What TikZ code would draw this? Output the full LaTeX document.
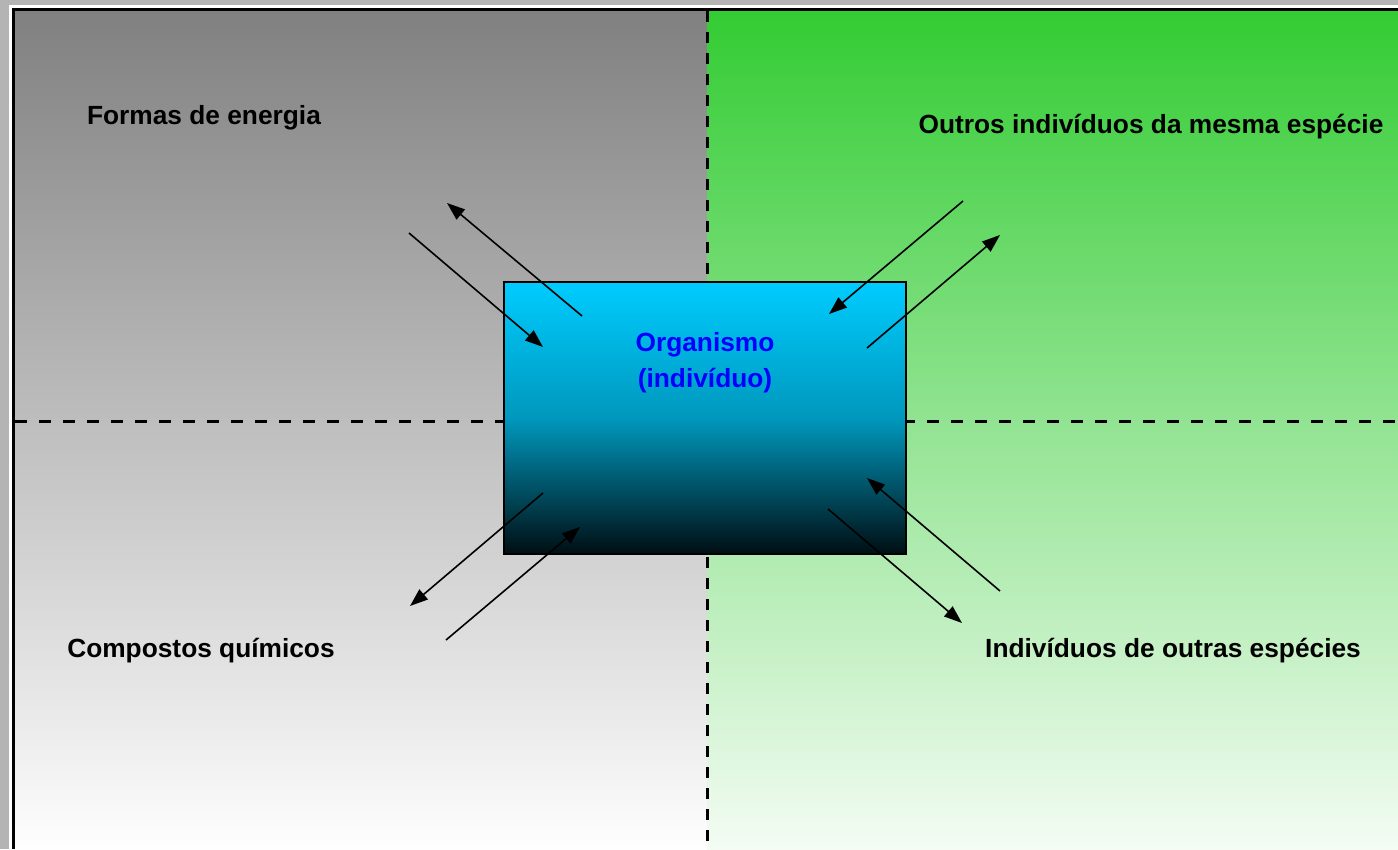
\documentclass[tikz,border=0pt]{standalone}
\usepackage{fontspec}
\setmainfont{Liberation Sans}
\usetikzlibrary{arrows.meta}

\definecolor{outergray}{HTML}{B4B4B4}
\definecolor{graytop}{HTML}{808080}
\definecolor{graybot}{HTML}{FEFEFE}
\definecolor{greentop}{HTML}{33CC33}
\definecolor{greenbot}{HTML}{F4FCF4}
\definecolor{cyantop}{HTML}{00CCFF}
\definecolor{cyanmid}{HTML}{0098BD}
\definecolor{cyanbot}{HTML}{000E13}
\definecolor{labelblue}{HTML}{0000FF}

\tikzset{
  labeltext/.style={font=\fontsize{26.3}{31}\selectfont\bfseries, inner sep=0pt, text=black},
  orgtext/.style={font=\fontsize{26.3}{36}\selectfont\bfseries, inner sep=0pt, text=labelblue, align=center},
  organism/.style={draw=black, line width=1.5pt, inner sep=0pt,
    top color=cyantop, bottom color=cyanbot, middle color=cyanmid},
  vdivider/.style={line width=3pt, dash pattern=on 10.5pt off 10.5pt},
  hdivider/.style={line width=3pt, dash pattern=on 12pt off 12pt},
  flow/.style={line width=1.6pt, -{Triangle[length=18pt,width=13pt]}}
}

\begin{document}
\begin{tikzpicture}[x=1pt,y=-1pt]
\useasboundingbox (0,0) rectangle (1398,849);

% window frame
\fill[outergray] (0,0) rectangle (1398,849);
\fill[white] (9,5) rectangle (1398,849);
\draw[line width=3pt] (13.5,849) -- (13.5,9.5) -- (1398,9.5);

% the two environment panels
\shade[top color=graytop, bottom color=graybot] (15,11) rectangle (707,849);
\shade[top color=greentop, bottom color=greenbot] (707,11) rectangle (1398,849);

% quadrant dividers
\draw[vdivider] (707,11) -- (707,849);
\draw[hdivider] (15,421.5) -- (1398,421.5);

% the organism
\node[organism, minimum width=402pt, minimum height=272pt] (org) at (705,418) {};
\node[orgtext, anchor=north] (orglabel) at (705,332) {Organismo\\(indivíduo)};

% quadrant labels
\node[labeltext, anchor=base] (energia) at (204,124) {Formas de energia};
\node[labeltext, anchor=base] (mesma) at (1151,133) {Outros indivíduos da mesma espécie};
\node[labeltext, anchor=base] (quimicos) at (201,657) {Compostos químicos};
\node[labeltext, anchor=base] (outras) at (1173,657) {Indivíduos de outras espécies};

% exchange arrow end points
\coordinate (a1s) at (582,316);  \coordinate (a1e) at (447,203);
\coordinate (a2s) at (409,233);  \coordinate (a2e) at (543,347);
\coordinate (a3s) at (963,201);  \coordinate (a3e) at (829,314);
\coordinate (a4s) at (867,348);  \coordinate (a4e) at (1000,235);
\coordinate (a5s) at (543,493);  \coordinate (a5e) at (410,606);
\coordinate (a6s) at (446,640);  \coordinate (a6e) at (580,527);
\coordinate (a7s) at (1000,591); \coordinate (a7e) at (867,478);
\coordinate (a8s) at (828,509);  \coordinate (a8e) at (962,623);

\draw[flow] (a1s) -- (a1e);
\draw[flow] (a2s) -- (a2e);
\draw[flow] (a3s) -- (a3e);
\draw[flow] (a4s) -- (a4e);
\draw[flow] (a5s) -- (a5e);
\draw[flow] (a6s) -- (a6e);
\draw[flow] (a7s) -- (a7e);
\draw[flow] (a8s) -- (a8e);
\end{tikzpicture}
\end{document}
